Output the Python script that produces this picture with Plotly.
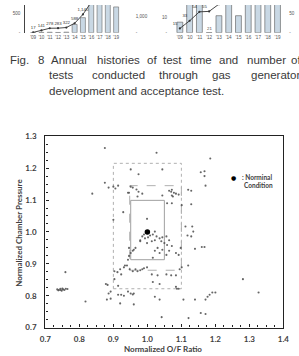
import plotly.graph_objects as go

W, H = 299, 356

# ---------------- top (cropped) bar charts ----------------
years = ["'09", "'10", "'11", "'12", "'13", "'14", "'15", "'16", "'17", "'18", "'19"]
test_time = [4, 8, 12, 6, 14, 218, 397, 900, 900, 900, 680]
cum_time = [17, 141, 278, 283, 322, 588, 1140, 1900, 2700, 3500, 4200]
cum_time_labels = ["17", "141", "278", "283", "322", "588", "1,140", "", "", "", ""]

test_count = [7, 25, 25, 0, 11.3, 25, 11.3, 25, 25, 25, 25]
cum_count = [15, 33, 54, 55, 72, 110, 130, 160, 190, 220, 250]
cum_count_labels = ["15", "33", "54", "55", "", "", "", "", "", "", ""]

# ---------------- caption ----------------
caption_lines = [
    ["Fig.", "8", "Annual", "histories", "of", "test", "time", "and", "number", "of"],
    ["tests", "conducted", "through", "gas", "generator"],
    ["development and acceptance test."],
]
caption_x = [
    [2, 31, 45, 93, 145, 161, 190, 220, 249, 295],
    [43, 87, 157, 213, 253],
    [43],
]
caption_y = [57, 72.5, 88]

# ---------------- scatter data ----------------
of_ratio = [
    0.875, 0.838, 0.875, 0.886, 0.900, 0.906, 0.914, 0.951, 0.974, 0.943,
    0.951, 0.968, 0.974, 0.985, 0.971, 0.929, 0.900, 0.999, 1.027, 1.185,
    1.044, 1.157, 1.168, 1.168, 1.171, 1.064, 1.070, 1.072, 1.078, 1.084,
    1.092, 1.072, 1.075, 1.044, 1.120, 1.129, 1.058, 1.072, 1.129, 1.101,
    1.022, 1.112, 1.132, 1.135, 0.946, 0.957,
    0.985, 0.979, 0.993, 1.002, 1.008, 1.016, 1.027, 1.022, 1.013, 0.999,
    1.036, 1.044, 1.056, 1.064, 1.041, 1.050, 1.058, 1.072, 1.030, 1.022,
    1.044, 1.064, 1.084, 1.098, 1.092, 1.056, 1.036, 1.016, 1.118, 1.129,
    1.140, 1.160, 1.168, 0.965, 0.960, 0.946, 0.943, 0.951, 0.957, 0.946,
    0.979, 0.990,
    0.934, 0.940, 0.931, 0.948, 0.957, 0.965, 0.971, 0.979, 0.985, 0.990,
    0.999, 1.120, 1.101, 1.095, 1.013, 1.030, 1.056, 1.070, 1.084, 1.016,
    1.036, 1.084, 1.087, 1.092, 0.903, 0.912, 0.920, 0.923,
    0.735, 0.740, 0.744, 0.748, 0.752, 0.756, 0.760, 0.745, 0.750, 0.765,
    0.738, 0.759, 0.818, 0.881, 0.892, 0.878, 0.883, 0.903, 0.914, 0.914,
    0.923, 0.931, 0.920, 0.943, 0.951, 0.957, 0.960, 0.960,
    1.106, 1.140, 1.171, 1.177, 1.183, 1.191, 1.200, 1.281, 1.327, 1.157,
    1.171, 1.042, 1.121, 1.022, 1.036, 0.886, 0.892,
]
chamber_p = [
    1.263, 1.120, 1.154, 1.139, 1.142, 1.136, 1.145, 1.196, 1.181, 1.123,
    1.142, 1.133, 1.126, 1.120, 1.111, 1.062, 1.038, 1.041, 1.248, 1.230,
    1.196, 1.187, 1.190, 1.175, 1.145, 1.129, 1.126, 1.132, 1.123, 1.120,
    1.117, 1.114, 1.111, 1.114, 1.132, 1.129, 1.090, 1.090, 1.087, 1.084,
    1.001, 1.017, 1.017, 1.001, 1.123, 1.139,
    0.986, 0.974, 0.980, 0.983, 0.989, 0.992, 0.986, 0.974, 0.971, 0.965,
    0.980, 0.983, 0.986, 0.974, 0.971, 0.965, 0.959, 0.956, 0.950, 0.941,
    0.944, 0.941, 0.934, 0.950, 0.928, 0.928, 0.934, 0.919, 0.989, 0.986,
    0.947, 0.953, 0.953, 0.950, 0.944, 0.925, 0.913, 0.934, 0.941, 0.950,
    0.971, 0.992,
    0.895, 0.895, 0.889, 0.883, 0.877, 0.883, 0.877, 0.880, 0.883, 0.886,
    0.889, 0.895, 0.889, 0.883, 0.867, 0.864, 0.867, 0.864, 0.864, 0.843,
    0.837, 0.828, 0.822, 0.822, 0.877, 0.874, 0.883, 0.867,
    0.820, 0.818, 0.822, 0.816, 0.820, 0.818, 0.822, 0.818, 0.823, 0.821,
    0.817, 0.874, 0.782, 0.788, 0.791, 0.837, 0.834, 0.852, 0.831, 0.803,
    0.803, 0.800, 0.776, 0.813, 0.807, 0.804, 0.807, 0.773,
    0.788, 0.788, 0.788, 0.797, 0.803, 0.810, 0.810, 0.852, 0.810, 0.746,
    0.743, 0.733, 0.730, 0.797, 0.788, 0.807, 0.813,
]
nominal_of = [1.0]
nominal_pc = [1.0]

# condition boxes (O/F min, O/F max, Pc min, Pc max)
box_outer = (0.90, 1.10, 0.822, 1.215)
box_middle = (0.948, 1.10, 0.880, 1.145)
box_inner = (0.951, 1.05, 0.913, 1.099)

x_ticks = [0.7, 0.8, 0.9, 1.0, 1.1, 1.2, 1.3, 1.4]
y_ticks = [0.7, 0.8, 0.9, 1.0, 1.1, 1.2, 1.3]

# ------------------------------------------------------------
fig = go.Figure()

bar_col = "#c9d8e4"
small = dict(family="Liberation Sans", size=4.6, color="#555")
lbl = dict(family="Liberation Sans", size=4.3, color="#333")

fig.add_trace(go.Bar(x=years, y=test_time, xaxis="x2", yaxis="y2",
                     marker=dict(color=bar_col, line=dict(color="#666", width=0.6)),
                     width=0.6))
fig.add_trace(go.Scatter(x=years, y=cum_time, xaxis="x2", yaxis="y3",
                         mode="lines+markers+text", text=cum_time_labels,
                         textposition="top center", textfont=lbl,
                         line=dict(color="#333", width=0.9),
                         marker=dict(size=2.2, color="#333")))
fig.add_trace(go.Bar(x=years, y=test_count, xaxis="x3", yaxis="y4",
                     marker=dict(color=bar_col, line=dict(color="#555", width=0.6)),
                     width=0.6))
fig.add_trace(go.Scatter(x=years, y=cum_count, xaxis="x3", yaxis="y5",
                         mode="lines+markers+text", text=cum_count_labels,
                         textposition="top left", textfont=lbl,
                         line=dict(color="#333", width=0.9),
                         marker=dict(size=2.2, color="#333")))

# scatter
fig.add_trace(go.Scatter(x=of_ratio, y=chamber_p, mode="markers",
                         marker=dict(size=2.1, color="#555", opacity=0.9),
                         xaxis="x", yaxis="y"))
fig.add_trace(go.Scatter(x=nominal_of, y=nominal_pc, mode="markers",
                         marker=dict(size=5.5, color="#000"),
                         xaxis="x", yaxis="y"))

def box(b, dash, color, width):
    fig.add_shape(type="rect", xref="x", yref="y", x0=b[0], x1=b[1], y0=b[2], y1=b[3],
                  line=dict(color=color, width=width, dash=dash), layer="below")

box(box_outer, "dot", "#b0b0b0", 1)
box(box_middle, "dash", "#b0b0b0", 1)
box(box_inner, "solid", "#a0a0a0", 1)

lab_font = dict(family="Lato", size=8, color="#404040", weight="bold")
top_dom = [1 - 28.5 / H, 1.0]

fig.update_layout(
    width=W, height=H, autosize=False,
    margin=dict(l=0, r=0, t=0, b=0),
    paper_bgcolor="white", plot_bgcolor="white",
    showlegend=False, bargap=0.4,
    xaxis=dict(domain=[41 / W, 289 / W], range=[0.7, 1.4], anchor="y",
               tickvals=x_ticks, tickformat=".1f", ticks="inside", ticklen=3,
               tickcolor="#222", tickwidth=1,
               minor=dict(dtick=0.025, tick0=0.7, ticks="inside", ticklen=2, tickcolor="#222"),
               showline=True, linecolor="#222", linewidth=1.4, mirror=True,
               showgrid=False, zeroline=False, tickfont=lab_font, ticklabelstandoff=4),
    yaxis=dict(domain=[1 - 332 / H, 1 - 135 / H], range=[0.7, 1.3], anchor="x",
               tickvals=y_ticks, tickformat=".1f", ticks="inside", ticklen=3,
               tickcolor="#222", tickwidth=1,
               minor=dict(dtick=0.025, tick0=0.7, ticks="inside", ticklen=2, tickcolor="#222"),
               showline=True, linecolor="#222", linewidth=1.4, mirror=True,
               showgrid=False, zeroline=False, tickfont=lab_font, ticklabelstandoff=6),
    xaxis2=dict(domain=[20 / W, 123 / W], anchor="y2", type="category",
                showgrid=False, showline=False, ticks="", tickfont=small,
                tickangle=0, ticklabelstandoff=1),
    yaxis2=dict(domain=top_dom, anchor="x2", range=[0, 731],
                tickvals=[0, 500], ticktext=["-", "500"], showgrid=False,
                showline=True, linecolor="#444", linewidth=0.8, zeroline=False,
                ticks="", tickfont=small, ticklabelstandoff=3),
    yaxis3=dict(overlaying="y2", side="right", anchor="free", position=131 / W,
                range=[0, 1727], tickvals=[0, 1000], ticktext=["-", "1,000"],
                showgrid=False, showline=False, zeroline=False, ticks="",
                tickfont=small, ticklabelstandoff=3),
    xaxis3=dict(domain=[172 / W, 292 / W], anchor="y4", type="category",
                showgrid=False, showline=False, ticks="", tickfont=small,
                tickangle=0, ticklabelstandoff=1),
    yaxis4=dict(domain=top_dom, anchor="x3", range=[0, 18.4],
                tickvals=[0, 10], ticktext=["-", "10"], showgrid=False,
                showline=False, zeroline=False, ticks="", tickfont=small,
                ticklabelstandoff=3),
    yaxis5=dict(overlaying="y4", side="right", anchor="x3", range=[5, 70],
                tickvals=[5, 50], ticktext=["-", "50"], showgrid=False,
                showline=False, zeroline=False, ticks="", tickfont=small,
                ticklabelstandoff=2),
)

ann = []
ann.append(dict(x=years[3], y=2.5, xref="x3", yref="y4", text="21", showarrow=False,
                font=dict(family="Liberation Sans", size=4.3, color="#444")))

cap_font = dict(family="Liberation Sans", size=11.5, color="#3a3a3a")
for words, xs, yy in zip(caption_lines, caption_x, caption_y):
    for w, xx in zip(words, xs):
        ann.append(dict(x=xx / W, y=1 - yy / H, xref="paper", yref="paper", text=w,
                        showarrow=False, xanchor="left", yanchor="middle",
                        font=cap_font))

# axis titles
ann.append(dict(x=14 / W, y=1 - 234 / H, xref="paper", yref="paper",
                text="Normalized Chamber Pressure", textangle=-90, showarrow=False,
                xanchor="center", yanchor="middle", font=lab_font))
ann.append(dict(x=164 / W, y=1 - 353.5 / H, xref="paper", yref="paper",
                text="Normalized O/F Ratio", showarrow=False,
                xanchor="center", yanchor="middle", font=lab_font))

# legend-like note
ann.append(dict(x=237 / W, y=1 - 177 / H, xref="paper", yref="paper", text="●",
                showarrow=False, xanchor="center", yanchor="middle",
                font=dict(family="DejaVu Sans", size=6, color="#000")))
leg_font = dict(family="Lato", size=6.5, color="#404040", weight="bold")
ann.append(dict(x=244 / W, y=1 - 177 / H, xref="paper", yref="paper", text=": Norminal",
                showarrow=False, xanchor="left", yanchor="middle", font=leg_font))
ann.append(dict(x=246 / W, y=1 - 186 / H, xref="paper", yref="paper", text="Condition",
                showarrow=False, xanchor="left", yanchor="middle", font=leg_font))

fig.update_layout(annotations=ann)

fig.write_html("out.html")
